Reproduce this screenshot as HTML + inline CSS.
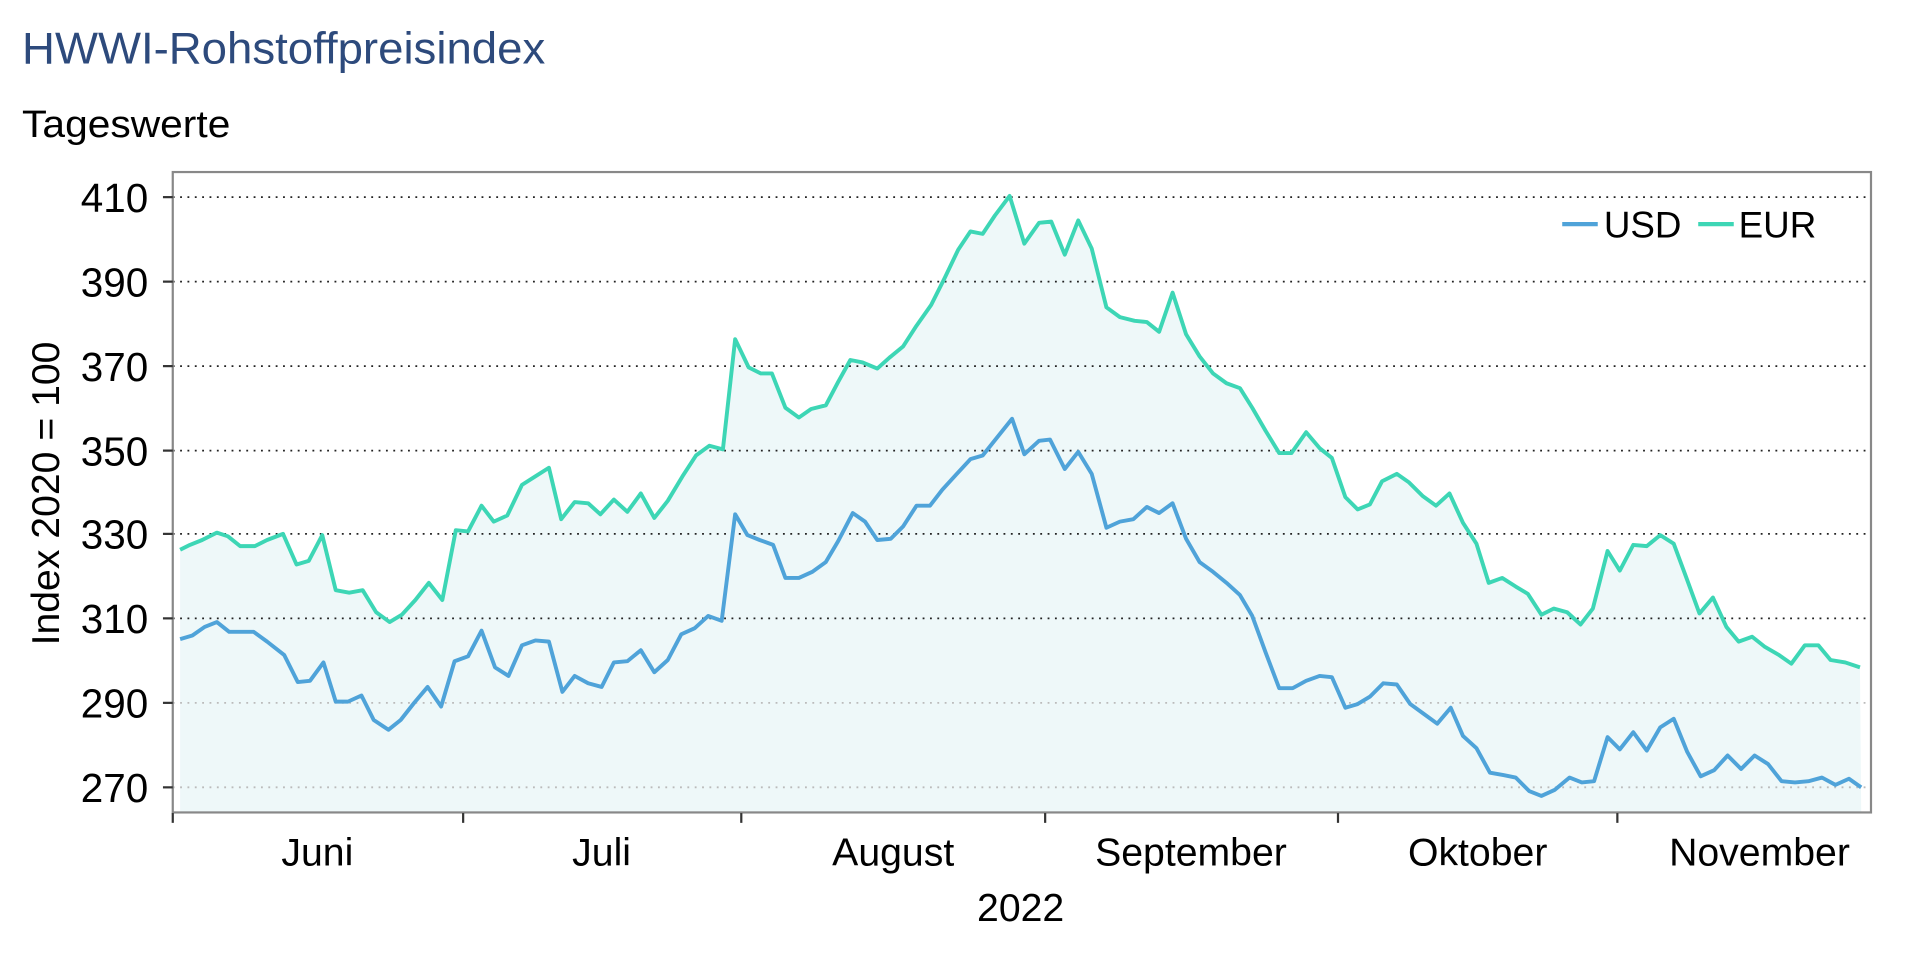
<!DOCTYPE html>
<html><head><meta charset="utf-8"><style>
html,body{margin:0;padding:0;background:#fff;}
svg{display:block;}
text{font-family:"Liberation Sans",Arial,sans-serif;}
.n{font-family:"Liberation Sans Narrow","Liberation Sans",sans-serif;}
</style></head><body>
<svg width="1920" height="960" viewBox="0 0 1567 784" preserveAspectRatio="none" xmlns="http://www.w3.org/2000/svg">
<text x="18" y="52" class="n" font-size="36" fill="#2d4a7c" textLength="427" lengthAdjust="spacingAndGlyphs">HWWI-Rohstoffpreisindex</text>
<text x="18" y="112" class="n" font-size="31" fill="#000" textLength="170" lengthAdjust="spacingAndGlyphs">Tageswerte</text>
<polygon fill="#eef8f9" points="147,663 147,449 155,445 165,441 177,435 186,438 196,446 208,446 218,441 231,436 242,461 252,458 263,437 274,482 285,484 296,482 307,500 318,508 328,502 339,490 350,476 361,490 372,433 382,434 393,413 403,426 414,421 426,396 437,389 448,382 458,424 469,410 480,411 490,420 501,408 512,418 523,403 534,423 545,409 557,389 568,372 579,364 590,367 600,277 611,300 621,305 630,305 641,333 652,341 662,334 674,331 684,312 694,294 704,296 716,301 726,292 737,283 748,266 760,249 771,227 782,204 792,189 802,191 812,176 824,160 836,199 848,182 858,181 869,208 880,180 891,203 903,251 914,259 926,262 936,263 946,271 957,239 968,273 979,291 990,305 1001,313 1012,317 1022,333 1033,352 1044,370 1054,370 1066,353 1077,366 1087,374 1098,406 1108,416 1118,412 1128,393 1140,387 1150,394 1161,405 1172,413 1183,403 1194,427 1205,444 1215,476 1226,472 1237,479 1247,485 1258,502 1268,497 1279,500 1290,510 1300,497 1312,450 1322,466 1333,445 1344,446 1355,437 1366,444 1376,471 1387,501 1398,488 1409,512 1419,524 1430,520 1440,528 1452,535 1462,542 1473,527 1484,527 1494,539 1506,541 1518,545 1519,663"/>
<g stroke="#222" stroke-width="1.5" stroke-dasharray="1.5,4.5">
<line x1="141" x2="1527" y1="161" y2="161"/><line x1="141" x2="1527" y1="230" y2="230"/>
<line x1="141" x2="1527" y1="299" y2="299"/><line x1="141" x2="1527" y1="368" y2="368"/>
<line x1="141" x2="1527" y1="436" y2="436"/><line x1="141" x2="1527" y1="505" y2="505"/>
</g>
<g stroke="#bbb" stroke-width="1.5" stroke-dasharray="1.5,4.5">
<line x1="141" x2="1527" y1="574" y2="574"/><line x1="141" x2="1527" y1="643" y2="643"/>
</g>
<polyline fill="none" stroke="#3dd6b5" stroke-width="3.2" stroke-linejoin="round" points="147,449 155,445 165,441 177,435 186,438 196,446 208,446 218,441 231,436 242,461 252,458 263,437 274,482 285,484 296,482 307,500 318,508 328,502 339,490 350,476 361,490 372,433 382,434 393,413 403,426 414,421 426,396 437,389 448,382 458,424 469,410 480,411 490,420 501,408 512,418 523,403 534,423 545,409 557,389 568,372 579,364 590,367 600,277 611,300 621,305 630,305 641,333 652,341 662,334 674,331 684,312 694,294 704,296 716,301 726,292 737,283 748,266 760,249 771,227 782,204 792,189 802,191 812,176 824,160 836,199 848,182 858,181 869,208 880,180 891,203 903,251 914,259 926,262 936,263 946,271 957,239 968,273 979,291 990,305 1001,313 1012,317 1022,333 1033,352 1044,370 1054,370 1066,353 1077,366 1087,374 1098,406 1108,416 1118,412 1128,393 1140,387 1150,394 1161,405 1172,413 1183,403 1194,427 1205,444 1215,476 1226,472 1237,479 1247,485 1258,502 1268,497 1279,500 1290,510 1300,497 1312,450 1322,466 1333,445 1344,446 1355,437 1366,444 1376,471 1387,501 1398,488 1409,512 1419,524 1430,520 1440,528 1452,535 1462,542 1473,527 1484,527 1494,539 1506,541 1518,545"/>
<polyline fill="none" stroke="#4fa3d9" stroke-width="3.2" stroke-linejoin="round" points="147,522 157,519 167,512 177,508 187,516 197,516 207,516 218,524 232,535 243,557 253,556 264,541 274,573 284,573 295,568 305,588 317,596 327,588 338,574 349,561 360,577 371,540 382,536 393,515 404,545 415,552 426,527 437,523 448,524 459,565 469,552 480,558 491,561 501,541 512,540 523,531 534,549 545,539 556,518 567,513 578,503 589,507 600,420 610,437 620,441 631,445 641,472 652,472 663,467 674,459 684,442 696,419 706,426 716,441 727,440 737,430 748,413 759,413 769,400 780,388 792,375 802,372 814,357 826,342 836,371 848,360 857,359 869,383 880,369 891,387 903,431 914,426 925,424 936,414 946,419 957,411 968,440 979,459 990,467 1001,476 1012,486 1022,503 1033,533 1044,562 1055,562 1066,556 1077,552 1087,553 1098,578 1108,575 1118,569 1129,558 1140,559 1151,575 1162,583 1173,591 1184,578 1194,601 1205,611 1216,631 1227,633 1237,635 1248,646 1258,650 1269,645 1281,635 1291,639 1301,638 1312,602 1322,612 1333,598 1344,613 1355,594 1366,587 1377,614 1388,634 1399,629 1410,617 1421,628 1432,617 1443,624 1454,638 1465,639 1476,638 1487,635 1498,641 1509,636 1519,643"/>
<rect x="141" y="140.5" width="1386" height="523" fill="none" stroke="#888" stroke-width="1.8"/>
<g stroke="#333" stroke-width="1.8">
<line x1="133" x2="141" y1="161" y2="161"/><line x1="133" x2="141" y1="230" y2="230"/>
<line x1="133" x2="141" y1="299" y2="299"/><line x1="133" x2="141" y1="368" y2="368"/>
<line x1="133" x2="141" y1="436" y2="436"/><line x1="133" x2="141" y1="505" y2="505"/>
<line x1="133" x2="141" y1="574" y2="574"/><line x1="133" x2="141" y1="643" y2="643"/>
<line x1="141" x2="141" y1="664" y2="672"/><line x1="378" x2="378" y1="664" y2="672"/>
<line x1="605" x2="605" y1="664" y2="672"/><line x1="853" x2="853" y1="664" y2="672"/>
<line x1="1092" x2="1092" y1="664" y2="672"/><line x1="1320" x2="1320" y1="664" y2="672"/>
</g>
<g font-size="33" text-anchor="end" fill="#000">
<text x="121" y="173">410</text><text x="121" y="242">390</text><text x="121" y="311">370</text>
<text x="121" y="380">350</text><text x="121" y="448">330</text><text x="121" y="517">310</text>
<text x="121" y="586">290</text><text x="121" y="655">270</text>
</g>
<text transform="translate(48,403) rotate(-90)" font-size="32" text-anchor="middle">Index 2020 = 100</text>
<g font-size="32" text-anchor="middle">
<text x="259" y="707">Juni</text><text x="491" y="707">Juli</text><text x="729" y="707">August</text>
<text x="972" y="707">September</text><text x="1206" y="707">Oktober</text><text x="1436" y="707">November</text>
<text x="833" y="752">2022</text>
</g>
<line x1="1275" x2="1304" y1="183" y2="183" stroke="#4fa3d9" stroke-width="3.5"/>
<text x="1309" y="194" font-size="30">USD</text>
<line x1="1386" x2="1415" y1="183" y2="183" stroke="#3dd6b5" stroke-width="3.5"/>
<text x="1419" y="194" font-size="30">EUR</text>
</svg>
</body></html>
